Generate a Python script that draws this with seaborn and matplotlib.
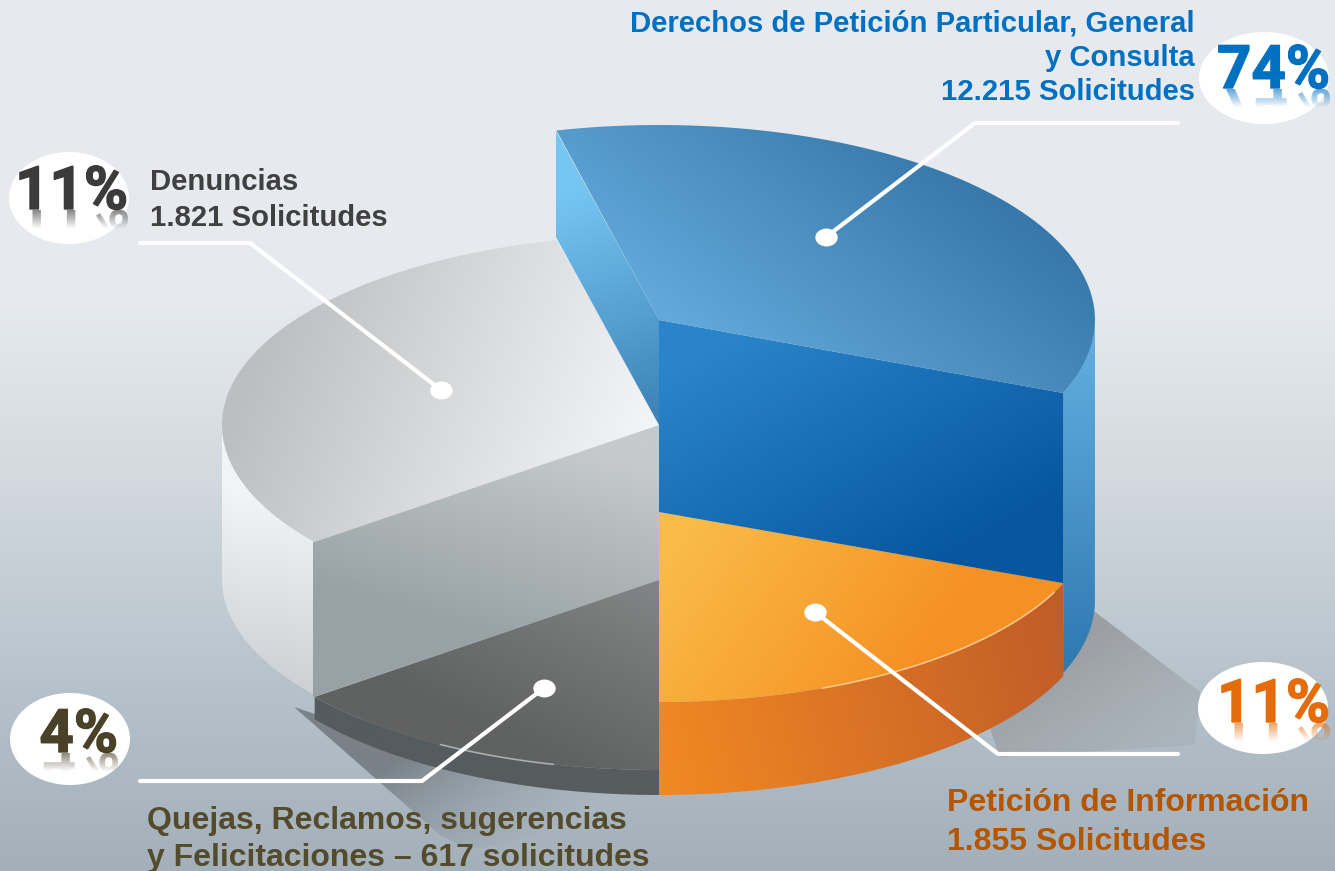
import numpy as np
import pandas as pd
import seaborn as sns
import matplotlib.pyplot as plt
import matplotlib.patheffects as pe
from matplotlib.colors import LinearSegmentedColormap
from matplotlib.font_manager import FontProperties
from matplotlib.patches import Ellipse, PathPatch
from matplotlib.path import Path
from matplotlib.textpath import TextPath
from matplotlib.transforms import Affine2D

# data
categories = ["Derechos", "Denuncias", "Peticion", "Quejas"]
shares = ["74%", "11%", "11%", "4%"]
requests = ["12.215", "1.821", "1.855", "617"]
# the drawn wedges are not proportional to the shares, angles as pictured
wedge_start = [-22, 103.6, -90, 218]
wedge_end = [103.6, 218, -22, 270]

blue_text = "#0070C0"
gray_text = "#404040"
orange_text = "#B45500"
olive_text = "#544B2D"
pct_colors = ["#0070C0", "#3B3B3B", "#E46C0A", "#4A4228"]

sns.set_theme(style="white")
plt.rcParams["font.family"] = ["Liberation Sans", "DejaVu Sans"]

fig, ax = plt.subplots(figsize=(13.35, 8.71), dpi=100)
fig.subplots_adjust(0, 0, 1, 1)
ax.set_axis_off()


def arc(cx, cy, a, b, t0, t1, n=80):
    t = np.radians(np.linspace(t0, t1, n))
    return np.column_stack([cx + a * np.cos(t), cy - b * np.sin(t)])


def shade(verts, c0, c1, p0, p1, z, path=None):
    # polygon filled with a linear gradient from p0 to p1
    if path is None:
        path = Path(np.vstack([verts, verts[:1]]))
    patch = PathPatch(path, fc="none", ec="none", transform=ax.transData)
    ax.add_patch(patch)
    ext = path.get_extents()
    x0, x1, y0, y1 = ext.x0 - 1, ext.x1 + 1, ext.y0 - 1, ext.y1 + 1
    X, Y = np.meshgrid(np.linspace(x0, x1, 300), np.linspace(y0, y1, 300))
    dx, dy = p1[0] - p0[0], p1[1] - p0[1]
    t = np.clip(((X - p0[0]) * dx + (Y - p0[1]) * dy) / (dx ** 2 + dy ** 2), 0, 1)[..., None]
    c0, c1 = np.array(c0, float), np.array(c1, float)
    if c0.size == 3:
        c0, c1 = np.append(c0, 255), np.append(c1, 255)
    rgba = (c0 + (c1 - c0) * t) / 255
    im = ax.imshow(rgba, extent=(x0, x1, y1, y0), origin="upper", aspect="auto",
                   zorder=z, interpolation="bilinear")
    im.set_clip_path(patch)


# background
bg = LinearSegmentedColormap.from_list("bg", [
    (0.0, "#E6E9EE"), (0.35, "#E6EAEE"), (0.55, "#D2D9DF"),
    (0.8, "#B5C1CA"), (1.0, "#A3B0B9")])
ax.imshow(np.linspace(0, 1, 256)[:, None], cmap=bg, extent=(0, 1335, 871, 0),
          aspect="auto", zorder=0)

# shadows on the floor
shade(np.array([(1090, 608), (1200, 692), (1195, 745), (1000, 757), (980, 700)]),
      (150, 152, 155, 220), (160, 165, 170, 70), (1080, 640), (1150, 770), 1)
shade(np.array([(294, 707), (440, 835), (470, 850), (659, 812), (659, 760), (315, 714)]),
      (95, 100, 105, 170), (130, 138, 145, 0), (430, 740), (500, 860), 1)

A, B = 437, 190

# gray slice
s, e = wedge_start[1], wedge_end[1]
shade(np.vstack([arc(659, 425, A, B, 180, e), arc(659, 580, A, B - 3, e, 180)]),
      (242, 244, 245), (205, 208, 211), (300, 500), (270, 690), 2)
shade(np.array([(659, 425), (313, 542), (313, 697), (659, 580)]),
      (198, 202, 202), (152, 162, 165), (560, 440), (500, 640), 3)
shade(np.vstack([[(659, 425)], arc(659, 425, A, B, s, e)]),
      (188, 191, 193), (243, 244, 245), (280, 300), (640, 440), 4)

# dark slice
s, e = wedge_start[3], wedge_end[3]
shade(np.vstack([arc(659, 580, A, B, e, s), arc(659, 598, A, 197, s, e)]),
      (84, 92, 96), (88, 92, 94), (320, 700), (659, 790), 5)
shade(np.vstack([[(659, 580)], arc(659, 580, A, B, s, e)]),
      (128, 131, 131), (96, 97, 97), (640, 590), (560, 760), 6)

# orange slice
s, e = wedge_start[2], wedge_end[2]
shade(np.vstack([arc(659, 512, 436, B, s, e), arc(659, 605, 436, B, e, s)]),
      (240, 135, 35), (192, 92, 40), (659, 700), (1063, 600), 7)
shade(np.vstack([[(659, 512)], arc(659, 512, 436, B, s, e)]),
      (250, 188, 72), (245, 145, 35), (680, 530), (900, 690), 8)

# blue slice, lifted above the others
s, e = wedge_start[0], wedge_end[0]
corner_top = arc(659, 320, 436, 195, s, s, 1)[0]
corner_low = arc(659, 512, 436, B, s, s, 1)[0]
shade(np.vstack([arc(659, 320, 436, 195, s, 0), arc(659, 600, 436, 195, 0, s)]),
      (100, 175, 225), (48, 122, 178), (1080, 330), (1080, 660), 9)
shade(np.array([(659, 320), corner_top, corner_low, (659, 512)]),
      (42, 132, 202), (6, 86, 160), (750, 330), (900, 590), 10)
shade(np.array([(556, 131), (659, 320), (659, 425), (556, 237)]),
      (118, 198, 242), (62, 132, 186), (570, 190), (655, 410), 11)
shade(np.vstack([[(659, 320)], arc(659, 320, 436, 195, s, e)]),
      (54, 118, 168), (98, 168, 218), (980, 170), (793, 410), 12)

# thin light edges
edge = arc(659, 512, 436, B, -68, -25)
ax.plot(edge[:, 0], edge[:, 1], color="#FFE0B0", lw=1.2, alpha=0.7, zorder=13)
edge = arc(659, 580, A, B, 240, 256)
ax.plot(edge[:, 0], edge[:, 1], color="#C8CCCC", lw=1.2, alpha=0.7, zorder=13)

# leader lines and dots
leader_x = [[1178, 975, 826], [140, 250, 441], [140, 422, 544], [1178, 998, 815]]
leader_y = [[123, 123, 237], [243, 243, 390], [781, 781, 688], [754, 754, 612]]
for lx, ly in zip(leader_x, leader_y):
    line = pd.DataFrame({"x": lx, "y": ly})
    sns.lineplot(data=line, x="x", y="y", sort=False, estimator=None, ax=ax,
                 color="white", lw=3, zorder=14, legend=False)
dots = pd.DataFrame({"x": [l[-1] for l in leader_x], "y": [l[-1] for l in leader_y]})
oval = Path.unit_circle().transformed(Affine2D().scale(1, 0.8))
sns.scatterplot(data=dots, x="x", y="y", ax=ax, color="white", s=260, linewidth=0,
                marker=oval, zorder=15, legend=False)

# bubbles with the shares
bubble_x = [1264, 69, 1263, 70]
bubble_y = [78, 198, 708, 739]
pct_right = [1330, 128, 1330, 118]
pct_base = [88, 209, 722, 752]
pct_font = FontProperties(family="Roboto", weight="bold")
pct_px = 60
for i, pct in enumerate(shares):
    ax.add_patch(Ellipse((bubble_x[i], bubble_y[i]), 130 if i in (0, 2) else 120, 92,
                         fc="white", ec="none", zorder=16))
    tp = TextPath((0, 0), pct, size=pct_px, prop=pct_font)
    ext = tp.get_extents()
    x_left = pct_right[i] - ext.x1
    ax.text(pct_right[i], pct_base[i], pct, color=pct_colors[i], fontsize=pct_px * 0.72,
            fontfamily="Roboto", fontweight="bold", ha="right", va="baseline", zorder=18,
            path_effects=[pe.withStroke(linewidth=1, foreground=pct_colors[i])])
    mirror = tp.transformed(Affine2D().translate(x_left, pct_base[i] + 1))
    rgb = tuple(int(pct_colors[i][j:j + 2], 16) for j in (1, 3, 5))
    shade(None, rgb + (170,), rgb + (0,), (0, pct_base[i]), (0, pct_base[i] + 20), 17, path=mirror)

# labels
bold = dict(fontweight="bold", va="baseline", zorder=18)
ax.text(1195, 31, "Derechos de Petición Particular, General", color=blue_text, ha="right", fontsize=21.1, **bold)
ax.text(1195, 66, "y Consulta", color=blue_text, ha="right", fontsize=21.1, **bold)
ax.text(1195, 100, f"{requests[0]} Solicitudes", color=blue_text, ha="right", fontsize=21.1, **bold)
ax.text(150, 190, "Denuncias", color=gray_text, fontsize=21.1, **bold)
ax.text(150, 226, f"{requests[1]} Solicitudes", color=gray_text, fontsize=21.1, **bold)
ax.text(947, 811, "Petición de Información", color=orange_text, fontsize=23, **bold)
ax.text(947, 850, f"{requests[2]} Solicitudes", color=orange_text, fontsize=23, **bold)
ax.text(147, 829, "Quejas, Reclamos, sugerencias", color=olive_text, fontsize=23, **bold)
ax.text(147, 866, f"y Felicitaciones – {requests[3]} solicitudes", color=olive_text, fontsize=23, **bold)

ax.set_xlim(0, 1335)
ax.set_ylim(871, 0)
fig.savefig("out.png", dpi=100)
